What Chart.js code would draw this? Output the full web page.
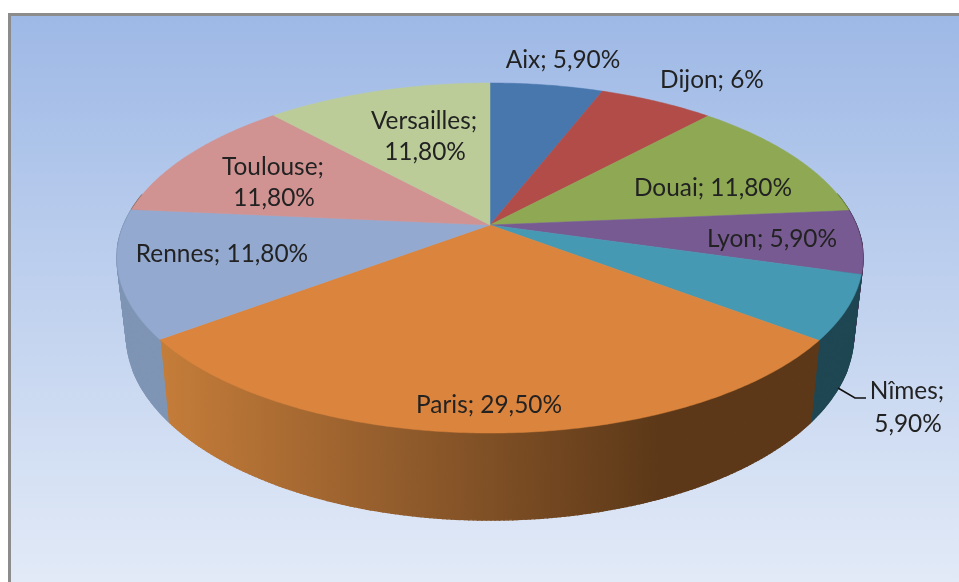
<!DOCTYPE html>
<html>
<head>
<meta charset="utf-8">
<style>
  html, body { margin: 0; padding: 0; background: #fff; }
  canvas { display: block; }
</style>
<script src="https://cdn.jsdelivr.net/npm/chart.js@4"></script>
</head>
<body>
<canvas id="pie" width="959" height="582"></canvas>
<script>
// Data
const cities = ['Aix', 'Dijon', 'Douai', 'Lyon', 'Nîmes', 'Paris', 'Rennes', 'Toulouse', 'Versailles'];
const shares = [5.9, 6, 11.8, 5.9, 5.9, 29.5, 11.8, 11.8, 11.8];
const shareLabels = ['5,90%', '6%', '11,80%', '5,90%', '5,90%', '29,50%', '11,80%', '11,80%', '11,80%'];

// Colours of the slice tops and of their side walls
const topColors = ['#4877ad', '#b14c48', '#8ea854', '#775a91', '#4699b2', '#db843d', '#93a9cf', '#d19392', '#bbcc99'];
const wallColors = ['#2c4a6c', '#6e2f2d', '#586934', '#4a385a', '#1f4753', null, '#7f95b5', '#826b5b', '#737f5d'];

// Where each label goes: centre x and middle y of each line
const labelSpots = [
    [[563, 60]],
    [[712, 80]],
    [[713, 188]],
    [[772, 239]],
    [[907, 391], [908, 424]],
    [[489, 405]],
    [[222, 254]],
    [[273, 167], [274, 198]],
    [[424, 121], [425, 152]]
];

// Perspective of the tilted disc
const CX = 490, CY = 225;
const RX = 366.3, RY = 168.8, TILT = 0.1886;
const DEPTH = 74.5, WALL_TILT = 0.144, SHRINK = 0.975;

function topPoint(angle) {
    const u = Math.cos(angle), v = Math.sin(angle);
    const w = 1 - TILT * v;
    return [CX + RX * u / w, CY + RY * v / w];
}

function bottomPoint(angle) {
    const p = topPoint(angle);
    const w = 1 - WALL_TILT * Math.sin(angle);
    return [CX + (p[0] - CX) * SHRINK, p[1] + DEPTH / w];
}

function arcPoints(start, end, fn) {
    const pts = [];
    const steps = Math.max(2, Math.ceil((end - start) / 0.01));
    for (let i = 0; i <= steps; i++) {
        pts.push(fn(start + (end - start) * i / steps));
    }
    return pts;
}

function fillShape(ctx, pts, color, edge) {
    ctx.beginPath();
    pts.forEach((p, i) => i ? ctx.lineTo(p[0], p[1]) : ctx.moveTo(p[0], p[1]));
    ctx.closePath();
    ctx.fillStyle = color;
    ctx.strokeStyle = color;
    ctx.lineWidth = edge;
    ctx.fill();
    ctx.stroke();
}

const tiltedPie = {
    id: 'tiltedPie',
    beforeDraw(chart) {
        const ctx = chart.ctx;
        ctx.save();
        const bg = ctx.createLinearGradient(0, 16, 0, 582);
        bg.addColorStop(0, '#9eb9e6');
        bg.addColorStop(1, '#e2eaf7');
        ctx.fillStyle = bg;
        ctx.fillRect(9, 14, 950, 568);
        ctx.fillStyle = '#8c8c8c';
        ctx.fillRect(8, 13, 951, 3);
        ctx.fillRect(8, 13, 3, 569);
        ctx.restore();
    },
    // the arc elements give the angles, this only changes how they are projected
    beforeDatasetDraw(chart, args) {
        const ctx = chart.ctx;
        const arcs = args.meta.data;
        ctx.save();

        const parisWall = ctx.createLinearGradient(165, 0, 660, 0);
        parisWall.addColorStop(0, '#c47c39');
        parisWall.addColorStop(0.5, '#8f5a2b');
        parisWall.addColorStop(1, '#5c3818');

        // walls go in thin strips, a single outline would cross itself at the sides.
        // strips on the far half are hidden anyway so they are skipped
        arcs.forEach((arc, i) => {
            const a = arc.getProps(['startAngle', 'endAngle'], true);
            const upper = arcPoints(a.startAngle, a.endAngle, topPoint);
            const lower = arcPoints(a.startAngle, a.endAngle, bottomPoint);
            for (let n = 1; n < upper.length; n++) {
                if (upper[n][1] < CY - 30) continue;
                fillShape(ctx, [upper[n - 1], upper[n], lower[n], lower[n - 1]], wallColors[i] || parisWall, 1.4);
            }
        });

        arcs.forEach((arc) => {
            const a = arc.getProps(['startAngle', 'endAngle'], true);
            const rim = arcPoints(a.startAngle, a.endAngle, topPoint);
            fillShape(ctx, [[CX, CY]].concat(rim), arc.options.backgroundColor, 0.5);
        });
        ctx.restore();
        return false;
    },
    afterDraw(chart) {
        const ctx = chart.ctx;
        ctx.save();
        // leader line to the Nîmes label
        ctx.strokeStyle = '#111';
        ctx.lineWidth = 1.6;
        ctx.beginPath();
        ctx.moveTo(838, 388);
        ctx.lineTo(855, 398);
        ctx.lineTo(866, 398);
        ctx.stroke();

        ctx.fillStyle = '#222';
        ctx.font = '24.4px Lato, "Open Sans", sans-serif';
        ctx.textAlign = 'center';
        ctx.textBaseline = 'middle';
        labelSpots.forEach((spots, i) => {
            const full = cities[i] + '; ' + shareLabels[i];
            const lines = spots.length > 1 ? [cities[i] + ';', shareLabels[i]] : [full];
            spots.forEach((s, n) => ctx.fillText(lines[n], s[0], s[1]));
        });
        ctx.restore();
    }
};

new Chart(document.getElementById('pie').getContext('2d'), {
    type: 'pie',
    data: {
        labels: cities,
        datasets: [{
            label: 'Part',
            data: shares,
            backgroundColor: topColors,
            borderWidth: 0
        }]
    },
    options: {
        responsive: false,
        animation: false,
        plugins: {
            legend: { display: false },
            tooltip: { enabled: false }
        }
    },
    plugins: [tiltedPie]
});
</script>
</body>
</html>
